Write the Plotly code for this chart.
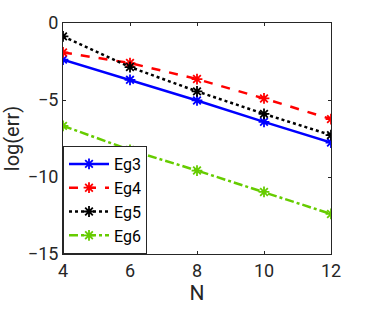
import plotly.graph_objects as go

N = [4, 6, 8, 10, 12]
eg3 = [-2.38, -3.69, -5.03, -6.42, -7.76]
eg4 = [-1.91, -2.60, -3.64, -4.90, -6.24]
eg5 = [-0.87, -2.86, -4.44, -5.90, -7.28]
eg6 = [-6.68, -8.24, -9.58, -10.97, -12.40]

names = ["Eg3", "Eg4", "Eg5", "Eg6"]
series = [eg3, eg4, eg5, eg6]
colors = ["#0000FF", "#FF0000", "#000000", "#66CC00"]
dashes = ["solid", "dash", "dot", "dashdot"]

FONT = "Roboto, Arial, sans-serif"

fig = go.Figure()
for nm, ys, c, d in zip(names, series, colors, dashes):
    fig.add_trace(go.Scatter(
        x=N, y=ys, name=nm,
        mode="lines+markers",
        line=dict(color=c, width=2.5, dash=d),
        marker=dict(symbol="asterisk-open", size=9, color=c, line=dict(color=c, width=1.8)),
    ))

axis_common = dict(
    showline=True, linecolor="#262626", linewidth=1, mirror="ticks",
    ticks="inside", ticklen=3, tickcolor="#262626",
    showgrid=False, zeroline=False, automargin=False,
    tickfont=dict(family=FONT, size=18, color="#262626"),
)

fig.update_layout(
    width=367, height=312,
    margin=dict(l=63, r=36, t=23, b=58, autoexpand=False),
    paper_bgcolor="white", plot_bgcolor="white",
    xaxis=dict(range=[4, 12], tickvals=[4, 6, 8, 10, 12],
               title=dict(text="N", font=dict(family=FONT, size=21, color="#262626"), standoff=0),
               **axis_common),
    yaxis=dict(range=[-15, 0], tickvals=[0, -5, -10, -15],
               title=dict(text="log(err)", font=dict(family=FONT, size=20, color="#262626"), standoff=2),
               **axis_common),
    legend=dict(x=0, y=0, xanchor="left", yanchor="bottom",
                bgcolor="white", bordercolor="#262626", borderwidth=1,
                font=dict(family=FONT, size=16, color="#000000"),
                tracegroupgap=0, itemwidth=40),
    showlegend=True,
)

fig.write_html("out.html", config={"displayModeBar": False},
               post_script="document.body.style.margin='0';document.body.style.padding='0';")
